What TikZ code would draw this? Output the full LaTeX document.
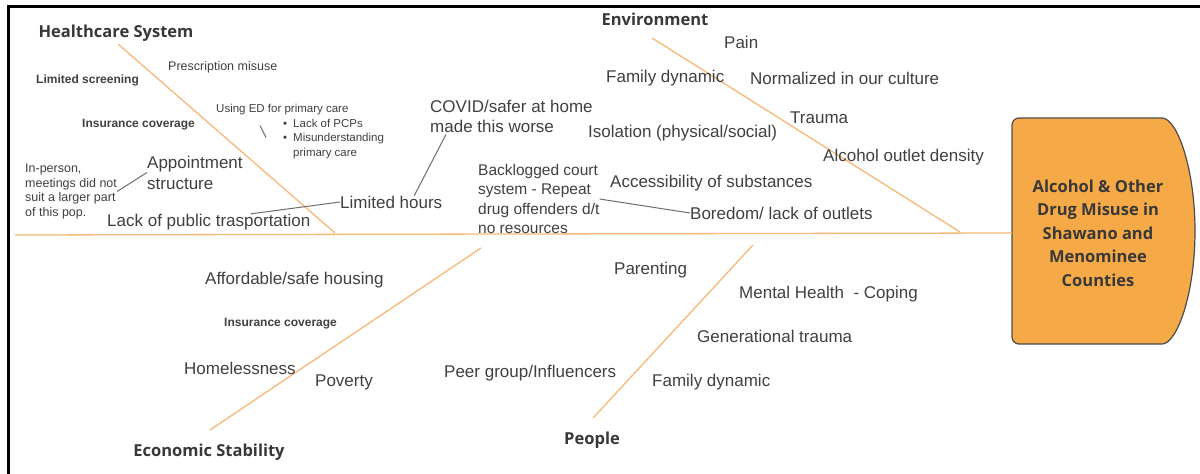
\documentclass[tikz,border=0pt]{standalone}
\usepackage{fontspec}
\setmainfont{Liberation Sans}
\newfontfamily\boldsans{Open Sans}
\usetikzlibrary{calc}

\definecolor{txtgray}{HTML}{404040}
\definecolor{boneorange}{HTML}{F8B878}
\definecolor{headorange}{HTML}{F5A947}
\definecolor{linkgray}{HTML}{6E6E6E}

\tikzset{
  cause/.style={anchor=west, inner sep=0pt, text=txtgray, align=left,
    font=\fontsize{17}{20}\selectfont},
  note/.style={cause, font=\fontsize{12.5}{14.5}\selectfont},
  boldnote/.style={cause, font=\bfseries\fontsize{12}{14}\selectfont},
  category/.style={anchor=center, inner sep=0pt, text=black!78,
    font=\boldsans\bfseries\fontsize{16.5}{19}\selectfont},
  headtext/.style={align=center, inner sep=0pt, text=black!78,
    minimum width=172pt, minimum height=226pt,
    font=\boldsans\bfseries\fontsize{16.5}{23.5}\selectfont},
  bone/.style={boneorange, line width=1.3pt},
  link/.style={linkgray, line width=1pt},
}

\begin{document}
\begin{tikzpicture}[x=1pt, y=-1pt]
\useasboundingbox (0,0) rectangle (1200,474);
\fill[white] (0,0) rectangle (1200,474);
\draw[line width=3pt] (1200,6) -- (8,6) -- (8,474);

% fish head
\filldraw[fill=headorange, draw=black!70, line width=1.2pt, rounded corners=7pt]
  (1155,118) arc[start angle=90, end angle=-90, x radius=40pt, y radius=113pt]
  -- (1012,344) -- (1012,118) -- cycle;
\node[headtext] (head) at (1098,233) {Alcohol \& Other\\Drug Misuse in\\Shawano and\\Menominee\\Counties};

% spine and bones
\coordinate (tail) at (15,235);
\coordinate (hcTop) at (118,44);
\coordinate (hcEnd) at (335,233);
\coordinate (envTop) at (652,38);
\coordinate (envEnd) at (960,232);
\coordinate (ecoBot) at (210,430);
\coordinate (ecoEnd) at (481,248);
\coordinate (pplBot) at (593,418);
\coordinate (pplEnd) at (753,245);
\draw[bone] (tail) -- (head.west);
\draw[bone] (hcTop) -- (hcEnd);
\draw[bone] (envTop) -- (envEnd);
\draw[bone] (ecoBot) -- (ecoEnd);
\draw[bone] (pplBot) -- (pplEnd);

% healthcare system
\node[category] (hc) at (116,33) {Healthcare System};
\node[note] (rx) at (168,67) {Prescription misuse};
\node[boldnote] (screen) at (36,80) {Limited screening};
\node[boldnote] (insHC) at (82,125) {Insurance coverage};
\node[note, font=\fontsize{11.5}{14.5}\selectfont] (usinged) at (216,110) {Using ED for primary care};
\node[note, font=\fontsize{11.5}{14.5}\selectfont] (pcp) at (283,139)
  {\textbullet\hspace{6pt}Lack of PCPs\\\textbullet\hspace{6pt}Misunderstanding\\\phantom{\textbullet}\hspace{6pt}primary care};
\node[note, font=\fontsize{12.5}{14.5}\selectfont] (inperson) at (25,191.5)
  {In-person,\\meetings did not\\suit a larger part\\of this pop.};
\node[cause, font=\fontsize{17}{21}\selectfont] (appt) at (147,172.5) {Appointment\\structure};
\node[cause] (lack) at (107,222) {Lack of public trasportation};
\node[cause] (hours) at (340,202) {Limited hours};
\node[cause] (covid) at (430,116) {COVID/safer at home\\made this worse};

\coordinate (edTick) at ($(usinged.south west)+(50,22)$);
\draw[link] ($(usinged.south west)+(44,10)$) -- (edTick);
\draw[link] (inperson.east) -- (appt.west);
\draw[link] ($(lack.north)!0.41!(lack.north east)$) -- (hours.west);
\draw[link] ($(hours.north)!0.45!(hours.north east)$) -- ($(covid.south west)+(16,2)$);

% environment
\node[category] (env) at (655,19) {Environment};
\node[cause] (pain) at (724,42) {Pain};
\node[cause] (famEnv) at (606,78) {Family dynamic};
\node[cause] (norm) at (750,78) {Normalized in our culture};
\node[cause] (trauma) at (790,118) {Trauma};
\node[cause] (isol) at (588,133) {Isolation (physical/social)};
\node[cause] (outlet) at (823,157) {Alcohol outlet density};
\node[cause] (access) at (610,183) {Accessibility of substances};
\node[cause] (bored) at (690,213) {Boredom/ lack of outlets};
\node[cause, font=\fontsize{15.5}{19.5}\selectfont] (court) at (478,199)
  {Backlogged court\\system - Repeat\\drug offenders d/t\\no resources};
\draw[link] (court.east) -- (bored.west);

% economic stability
\node[cause] (house) at (205,280) {Affordable/safe housing};
\node[boldnote] (insEco) at (224,324) {Insurance coverage};
\node[cause] (homeless) at (184,368) {Homelessness};
\node[cause] (poverty) at (315,382) {Poverty};
\node[category] (eco) at (209,452) {Economic Stability};

% people
\node[cause] (parent) at (614,270) {Parenting};
\node[cause] (mental) at (739,294) {Mental Health\ \ - Coping};
\node[cause] (gen) at (697,336) {Generational trauma};
\node[cause] (peer) at (444,373) {Peer group/Influencers};
\node[cause] (famPpl) at (652,382) {Family dynamic};
\node[category] (ppl) at (592,440) {People};
\end{tikzpicture}
\end{document}
